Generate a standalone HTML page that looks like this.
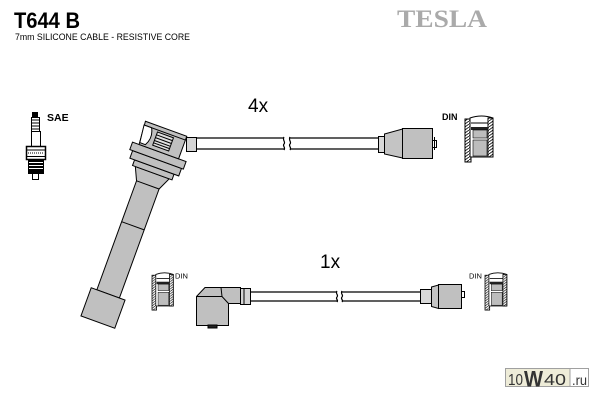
<!DOCTYPE html>
<html><head><meta charset="utf-8"><style>
html,body{margin:0;padding:0;background:#fff;}
svg{display:block;}
</style></head><body>
<svg width="600" height="400" viewBox="0 0 600 400" xmlns="http://www.w3.org/2000/svg">
<defs>
<pattern id="hatch" width="4" height="3" patternUnits="userSpaceOnUse">
<rect width="4" height="3" fill="#fff"/>
<line x1="0" y1="3" x2="4" y2="0" stroke="#000" stroke-width="0.8"/>
</pattern>
<g id="din">
 <rect x="0" y="4" width="6" height="43" fill="url(#hatch)" stroke="#000" stroke-width="1"/>
 <path d="M5 3 Q16.5 -1 28 3 L28 42 L5 42 Z" fill="#fff" stroke="#000"/>
 <rect x="23" y="3" width="5" height="39" fill="url(#hatch)" stroke="#000"/>
 <line x1="6" y1="8" x2="23" y2="8" stroke="#000"/>
 <rect x="6" y="12" width="17" height="3" fill="#222"/>
 <rect x="8" y="15" width="14" height="8" fill="#bdbdbd" stroke="#000" stroke-width="0.6"/>
 <rect x="8" y="25" width="14" height="16" fill="#bdbdbd" stroke="#000" stroke-width="0.6"/>
</g>
</defs>

<!-- Titles -->
<text x="14" y="28" font-family="Liberation Sans, sans-serif" font-weight="bold" font-size="22" textLength="66" lengthAdjust="spacingAndGlyphs">T644 B</text>
<text x="15" y="40" font-family="Liberation Sans, sans-serif" font-size="9.5" textLength="175" lengthAdjust="spacingAndGlyphs">7mm SILICONE CABLE -  RESISTIVE CORE</text>
<text x="397" y="27" font-family="Liberation Serif, serif" font-weight="bold" font-size="25" fill="#aaaaaa" textLength="90" lengthAdjust="spacingAndGlyphs">TESLA</text>

<!-- Spark plug -->
<g stroke="#000" stroke-width="1">
 <rect x="32.5" y="112.5" width="5" height="5" fill="#000"/>
 <rect x="31.5" y="117.5" width="8" height="14" fill="#fff"/>
 <line x1="31.5" y1="120" x2="39.5" y2="120"/>
 <line x1="31.5" y1="123" x2="39.5" y2="123"/>
 <line x1="31.5" y1="126" x2="39.5" y2="126"/>
 <line x1="31.5" y1="129" x2="39.5" y2="129"/>
 <rect x="31.5" y="131.5" width="9" height="15" fill="#fff"/>
 <rect x="26.5" y="146.5" width="19" height="13" fill="#fff" stroke-width="1.5"/>
 <line x1="26.5" y1="150" x2="45.5" y2="150"/>
 <line x1="28" y1="153" x2="44" y2="153" stroke-dasharray="1 1"/>
 <line x1="26.5" y1="156.5" x2="45.5" y2="156.5"/>
 <rect x="28.5" y="159.5" width="15" height="14" fill="#000"/>
 <line x1="29" y1="162.5" x2="43" y2="162.5" stroke="#fff"/>
 <line x1="29" y1="165.5" x2="43" y2="165.5" stroke="#fff"/>
 <line x1="29" y1="168.5" x2="43" y2="168.5" stroke="#fff"/>
 <rect x="32.5" y="173.5" width="6" height="6" fill="#fff"/>
</g>
<text x="47" y="121" font-family="Liberation Sans, sans-serif" font-weight="bold" font-size="10.5">SAE</text>

<!-- Top cable -->
<g stroke="#000" stroke-width="1.2" fill="none">
 <line x1="196" y1="138" x2="284" y2="138"/>
 <line x1="196" y1="149" x2="284" y2="149"/>
 <line x1="290" y1="138" x2="378" y2="138"/>
 <line x1="290" y1="149" x2="378" y2="149"/>
 <path d="M284,137 c-2,3 2,5 0,7 c-2,2 2,3 0,6"/>
 <path d="M290,137 c-2,3 2,5 0,7 c-2,2 2,3 0,6"/>
</g>
<!-- Ferrule at coil -->
<rect x="186.5" y="137.5" width="10" height="14" fill="#d4d4d4" stroke="#000"/>

<!-- Coil boot -->
<g transform="translate(103,308) rotate(20)" stroke="#000" stroke-width="1" fill="#c0c0c0">
 <rect x="-12" y="-132" width="24" height="117"/>
 <line x1="-12" y1="-87.5" x2="12" y2="-87.5"/>
 <rect x="-18" y="-15" width="36" height="30"/>
 <polygon points="-12,-131 12,-131 18,-144 -18,-144"/>
 <rect x="-21" y="-150" width="42" height="6"/>
 <rect x="-26" y="-158" width="52" height="8"/>
 <rect x="-29" y="-166" width="57" height="8"/>
 <polygon points="-24,-190 20,-190 20,-166 -22,-166"/>
 <line x1="-24" y1="-186" x2="20" y2="-186"/>
 <path d="M-24,-186 L-16,-186 Q-11,-177 -16,-168 L-22,-168 Z" fill="#fff"/>
 <rect x="-9" y="-184" width="17" height="14" fill="#e0e0e0"/>
 <line x1="-9" y1="-181" x2="8" y2="-181"/>
 <line x1="-9" y1="-178" x2="8" y2="-178"/>
 <line x1="-9" y1="-175" x2="8" y2="-175"/>
 <line x1="-9" y1="-172.5" x2="8" y2="-172.5"/>
</g>

<!-- Top right connector -->
<g stroke="#000" stroke-width="1">
 <rect x="378.5" y="136.5" width="6" height="16" fill="#d8d8d8"/>
 <polygon points="384.5,134 402.5,129 402.5,158 384.5,154" fill="#c4c4c4"/>
 <rect x="402.5" y="128.5" width="30" height="30" fill="#c0c0c0"/>
 <rect x="432.5" y="140.5" width="4" height="7" fill="#fff"/>
 <line x1="434.5" y1="137" x2="434.5" y2="150"/>
</g>
<text x="248" y="112" font-family="Liberation Sans, sans-serif" font-size="19">4x</text>
<text x="442" y="120" font-family="Liberation Sans, sans-serif" font-weight="bold" font-size="9">DIN</text>
<use href="#din" transform="translate(465,115)"/>

<!-- Bottom cable -->
<g stroke="#000" stroke-width="1.2" fill="none">
 <line x1="250" y1="292" x2="337" y2="292"/>
 <line x1="250" y1="301" x2="337" y2="301"/>
 <line x1="342" y1="292" x2="420" y2="292"/>
 <line x1="342" y1="301" x2="420" y2="301"/>
 <path d="M337,291 c-2,3 2,4 0,6 c-2,2 2,3 0,5"/>
 <path d="M342,291 c-2,3 2,4 0,6 c-2,2 2,3 0,5"/>
</g>

<!-- Angled connector -->
<g stroke="#000" stroke-width="1">
 <rect x="240.5" y="288.5" width="10" height="16" fill="#d4d4d4"/>
 <line x1="244" y1="288.5" x2="244" y2="304.5"/>
 <polygon points="196.5,296.5 205,287.5 240.5,287.5 240.5,303.5 228.5,303.5 228.5,325.5 196.5,325.5" fill="#c0c0c0"/>
 <polyline points="196.5,296.5 222,296.5 228.5,303.5" fill="none"/>
 <line x1="221" y1="287.5" x2="222" y2="296.5"/>
 <rect x="208" y="325" width="9" height="3" fill="#222"/>
</g>
<text x="320" y="268" font-family="Liberation Sans, sans-serif" font-size="19">1x</text>

<!-- Bottom right connector -->
<g stroke="#000" stroke-width="1">
 <rect x="420.5" y="289.5" width="11" height="14" fill="#d8d8d8"/>
 <polygon points="431.5,287 438.5,285 438.5,308.5 431.5,306.5" fill="#c4c4c4"/>
 <rect x="438.5" y="284.5" width="23" height="24" fill="#c0c0c0"/>
 <rect x="461.5" y="291.5" width="3" height="6" fill="#fff"/>
</g>

<!-- Bottom DIN icons -->
<use href="#din" transform="translate(152,272) scale(0.76,0.81)"/>
<text x="175" y="278.5" font-family="Liberation Sans, sans-serif" font-size="7.5">DIN</text>
<use href="#din" transform="translate(485,272) scale(0.78,0.81)"/>
<text x="469" y="278.5" font-family="Liberation Sans, sans-serif" font-size="7.5">DIN</text>

<!-- Watermark -->
<rect x="505.5" y="368.5" width="83" height="18" fill="#fff" stroke="#a0a0a0"/>
<rect x="506" y="369" width="64" height="17" fill="#eeecd8"/>
<line x1="570" y1="369" x2="570" y2="386" stroke="#a0a0a0"/>
<text x="508" y="385" font-family="Liberation Sans, sans-serif" font-size="16" fill="#333" textLength="15" lengthAdjust="spacingAndGlyphs">10</text>
<text x="524" y="386.5" font-family="Liberation Sans, sans-serif" font-weight="bold" font-size="22" fill="#333" textLength="19" lengthAdjust="spacingAndGlyphs">W</text>
<text x="544" y="385" font-family="Liberation Sans, sans-serif" font-size="16" fill="#333" textLength="22" lengthAdjust="spacingAndGlyphs">40</text>
<text x="572" y="385" font-family="Liberation Sans, sans-serif" font-size="14" fill="#333" textLength="15" lengthAdjust="spacingAndGlyphs">.ru</text>
</svg>
</body></html>
